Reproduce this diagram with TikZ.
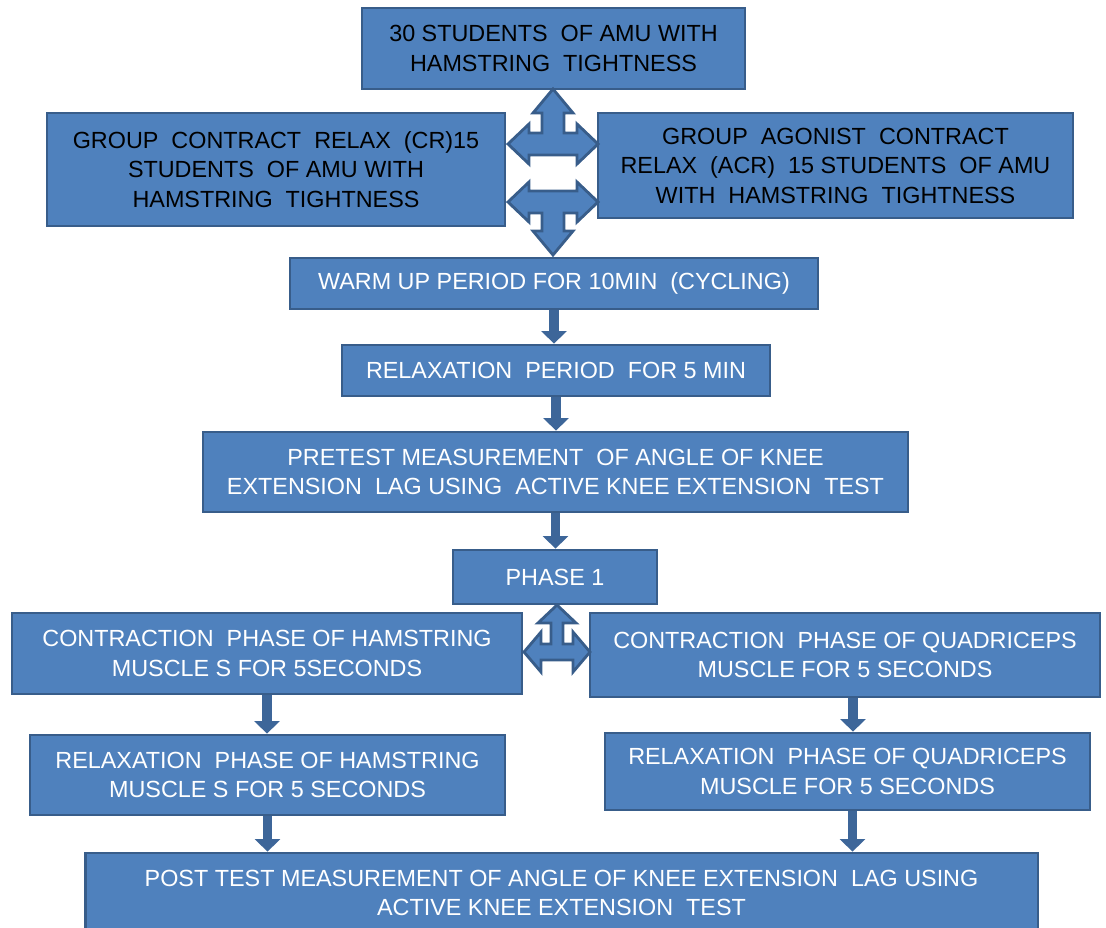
\documentclass[tikz,border=0pt]{standalone}
\usepackage{fontspec}
\setmainfont{Liberation Sans}
\usepackage{xcolor}
\usepackage{tikz}
\usetikzlibrary{arrows.meta, positioning}
\usetikzlibrary{calc}
\definecolor{boxblue}{HTML}{4F81BD}
\definecolor{edgeblue}{HTML}{385D8A}
\definecolor{shaftblue}{HTML}{3D6699}

\tikzset{
    flowbox/.style={rectangle, fill=boxblue, draw=edgeblue, line width=1.6pt,
        inner sep=0pt, align=center, text=white,
        font=\fontsize{13.3}{16.8}\selectfont},
    darktext/.style={text=black},
    downarrow/.style={draw=shaftblue, line width=5.5pt,
        -{Triangle[width=0.5cm, length=0.25cm]}},
    blockarrow/.style={fill=boxblue, draw=edgeblue, line width=1.6pt, line join=miter}
}

\begin{document}
\begin{tikzpicture}[x=0.02cm, y=-0.02cm, >=Stealth]
        \useasboundingbox (0,0) rectangle (1106,927);
        % boxes
        \node[flowbox, darktext, minimum width=7.66cm, minimum height=1.62cm] (top) at (553.5,48.5)
            {30 STUDENTS~ OF AMU WITH\\HAMSTRING~ TIGHTNESS};
        \node[flowbox, darktext, minimum width=9.16cm, minimum height=2.26cm] (cr) at (276,169.5)
            {GROUP~ CONTRACT~ RELAX~ (CR)15\\STUDENTS~ OF AMU WITH\\HAMSTRING~ TIGHTNESS};
        \node[flowbox, darktext, minimum width=9.5cm, minimum height=2.1cm] (acr) at (835.5,165.5)
            {GROUP~ AGONIST~ CONTRACT\\RELAX~ (ACR)~ 15 STUDENTS~ OF AMU\\WITH~ HAMSTRING~ TIGHTNESS};
        \node[flowbox, minimum width=10.56cm, minimum height=1.02cm] (warm) at (554,283.5)
            {WARM UP PERIOD FOR 10MIN~ (CYCLING)};
        \node[flowbox, minimum width=8.56cm, minimum height=1.02cm] (relax) at (556,370.5)
            {RELAXATION~ PERIOD~ FOR 5 MIN};
        \node[flowbox, minimum width=14.1cm, minimum height=1.6cm] (pre) at (555.5,472)
            {PRETEST MEASUREMENT~ OF ANGLE OF KNEE\\EXTENSION~ LAG USING~ ACTIVE KNEE EXTENSION~ TEST};
        \node[flowbox, minimum width=4.08cm, minimum height=1.08cm] (phase) at (555,577)
            {PHASE 1};
        \node[flowbox, minimum width=10.2cm, minimum height=1.62cm] (conh) at (267,653.5)
            {CONTRACTION~ PHASE OF HAMSTRING\\MUSCLE S FOR 5SECONDS};
        \node[flowbox, minimum width=10.2cm, minimum height=1.68cm] (conq) at (845,655)
            {CONTRACTION~ PHASE OF QUADRICEPS\\MUSCLE FOR 5 SECONDS};
        \node[flowbox, minimum width=9.5cm, minimum height=1.6cm] (relh) at (267.5,775)
            {RELAXATION~ PHASE OF HAMSTRING\\MUSCLE S FOR 5 SECONDS};
        \node[flowbox, minimum width=9.7cm, minimum height=1.54cm] (relq) at (847.5,771.5)
            {RELAXATION~ PHASE OF QUADRICEPS\\MUSCLE FOR 5 SECONDS};
        \node[flowbox, minimum width=19.06cm, minimum height=1.6cm] (post) at (561.5,893)
            {POST TEST MEASUREMENT OF ANGLE OF KNEE EXTENSION~ LAG USING\\ACTIVE KNEE EXTENSION~ TEST};

        % crossed block arrows between the groups
        \coordinate (splitup) at (553,144);
        \coordinate (splitdown) at (553,202);
        \coordinate (splitphase) at (557,652);
        \draw[blockarrow, shift={(splitup)}] (0,-55) -- (20,-31) -- (11,-31) -- (11,-11) -- (24,-11)
            -- (24,-20) -- (45,0) -- (24,20) -- (24,11) -- (-24,11) -- (-24,20) -- (-45,0)
            -- (-24,-20) -- (-24,-11) -- (-11,-11) -- (-11,-31) -- (-20,-31) -- cycle;
        \draw[blockarrow, shift={(splitdown)}] (0,53) -- (20,29) -- (11,29) -- (11,11) -- (24,11)
            -- (24,20) -- (45,0) -- (24,-20) -- (24,-11) -- (-24,-11) -- (-24,-20) -- (-45,0)
            -- (-24,20) -- (-24,11) -- (-11,11) -- (-11,29) -- (-20,29) -- cycle;
        \draw[blockarrow, shift={(splitphase)}] (0,-47) -- (19,-29) -- (6,-29) -- (6,-8) -- (16,-8)
            -- (16,-20) -- (33,0) -- (16,20) -- (16,8) -- (-16,8) -- (-16,20) -- (-33,0)
            -- (-16,-20) -- (-16,-8) -- (-6,-8) -- (-6,-29) -- (-19,-29) -- cycle;

        % down arrows
        \draw[downarrow] (warm.south) -- (warm.south |- relax.north);
        \draw[downarrow] (relax.south) -- (relax.south |- pre.north);
        \draw[downarrow] (pre.south) -- (pre.south |- phase.north);
        \draw[downarrow] (conh.south) -- (conh.south |- relh.north);
        \draw[downarrow] ($(conq.south)+(8,0)$) -- ($(conq.south |- relq.north)+(8,0)$);
        \draw[downarrow] (relh.south) -- (relh.south |- post.north);
        \draw[downarrow] ($(relq.south)+(5,0)$) -- ($(relq.south |- post.north)+(5,0)$);
    \end{tikzpicture}
\end{document}
